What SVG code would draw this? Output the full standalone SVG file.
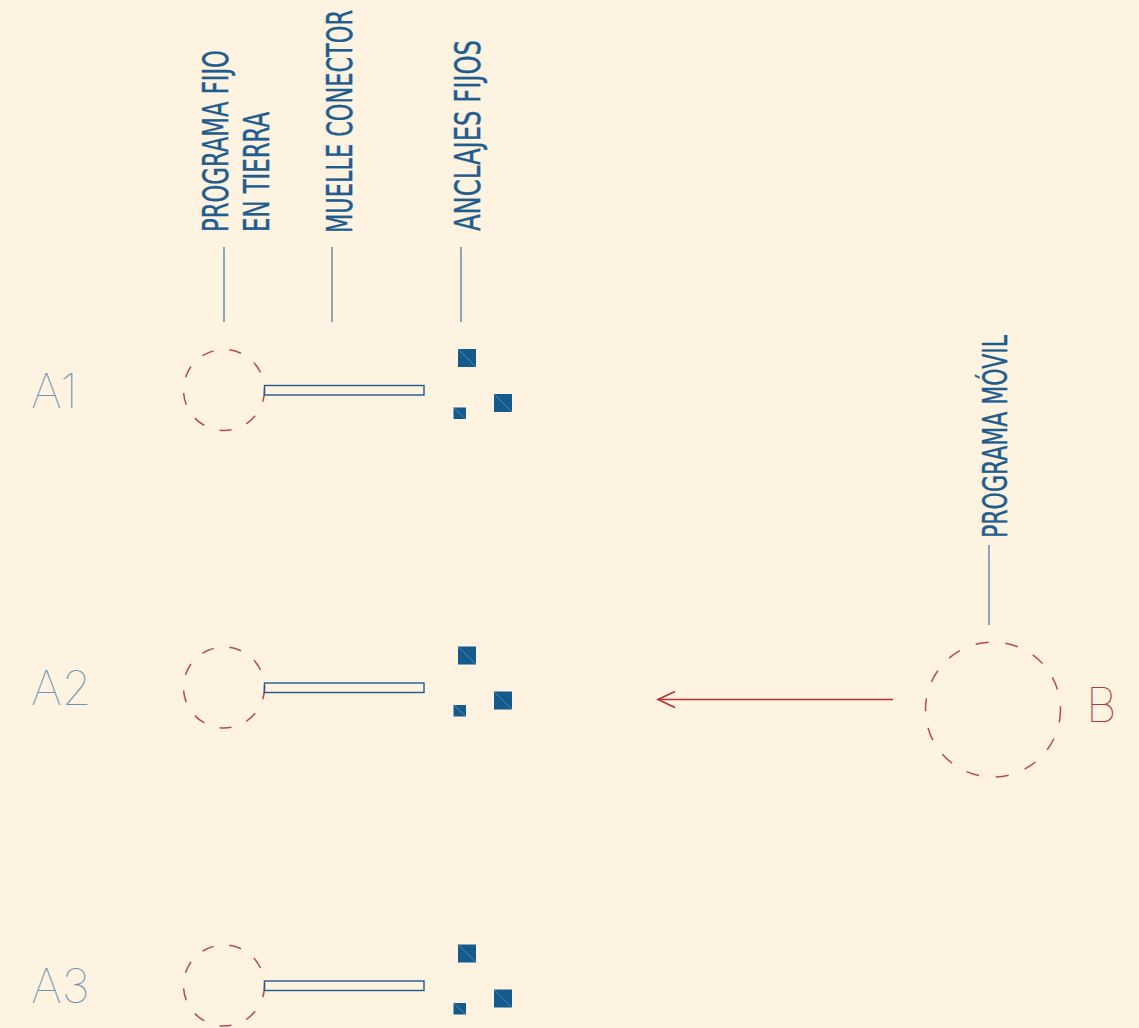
<svg xmlns="http://www.w3.org/2000/svg" width="1139" height="1028" viewBox="0 0 1139 1028">
<style>
.bg{fill:#fef2e0}
.lbl{font-family:"Liberation Sans Narrow","DejaVu Sans Condensed","Liberation Sans",sans-serif;font-size:35px;fill:#1f5d8f;stroke:#1f5d8f;stroke-width:0.4}
.lead{stroke:#6f93ae;stroke-width:1.6;fill:none}
.row{font-family:Inter,"Lato","Liberation Sans",sans-serif;font-weight:100;font-size:48px;fill:#6a95b6}
.dash{fill:none;stroke:#b94a4a;stroke-width:1.5;stroke-dasharray:12 16}
.dashB{fill:none;stroke:#b94a4a;stroke-width:1.5;stroke-dasharray:13 17}
.pier{fill:none;stroke:#1f5d8f;stroke-width:1.4}
.anc{fill:#155a8c}
.diag{stroke:#5d8fb6;stroke-width:0.8}
.arrow{stroke:#b03535;stroke-width:1.6;fill:none}
.bl{font-family:Inter,"Lato","Liberation Sans",sans-serif;font-weight:100;font-size:48px;fill:#b03838}
</style>
<rect class="bg" x="0" y="0" width="1139" height="1028"/>

<g id="labels">
  <g id="label-programa-fijo">
    <text class="lbl" transform="translate(228,232) rotate(-90)" textLength="182" lengthAdjust="spacingAndGlyphs">PROGRAMA FIJO</text>
    <text class="lbl" transform="translate(269,232) rotate(-90)" textLength="120" lengthAdjust="spacingAndGlyphs">EN TIERRA</text>
  </g>
  <g id="label-muelle">
    <text class="lbl" transform="translate(352,233) rotate(-90)" textLength="223" lengthAdjust="spacingAndGlyphs">MUELLE CONECTOR</text>
  </g>
  <g id="label-anclajes">
    <text class="lbl" transform="translate(480,231) rotate(-90)" textLength="191" lengthAdjust="spacingAndGlyphs">ANCLAJES FIJOS</text>
  </g>
  <g id="label-movil">
    <text class="lbl" style="font-size:33px" transform="translate(1007,538) rotate(-90)" textLength="203" lengthAdjust="spacingAndGlyphs">PROGRAMA MÓVIL</text>
  </g>
</g>

<g id="connectors">
  <line class="lead" x1="224" y1="247" x2="224" y2="322"/>
  <line class="lead" x1="332" y1="247" x2="332" y2="322"/>
  <line class="lead" x1="461" y1="247" x2="461" y2="322"/>
  <line class="lead" x1="989" y1="545" x2="989" y2="625"/>
  <g id="arrow-B-A2">
    <line class="arrow" x1="893" y1="699.5" x2="658" y2="699.5"/>
    <polyline class="arrow" points="675,691.5 658,699.5 675,707.5"/>
  </g>
</g>

<defs>
  <g id="rowShape">
    <circle class="dash" cx="224" cy="390" r="40.5"/>
    <rect class="pier" x="264.5" y="385.5" width="159.5" height="9.5"/>
    <rect class="anc" x="458" y="349" width="18" height="18"/>
    <line class="diag" x1="458" y1="349" x2="476" y2="367"/>
    <rect class="anc" x="494" y="394" width="18" height="18"/>
    <line class="diag" x1="494" y1="394" x2="512" y2="412"/>
    <rect class="anc" x="453.5" y="407.5" width="12.5" height="11.5"/>
    <line class="diag" x1="453.5" y1="407.5" x2="466" y2="419"/>
  </g>
</defs>

<g id="node-A1">
  <text class="row" x="31" y="408">A1</text>
  <use href="#rowShape"/>
</g>
<g id="node-A2">
  <text class="row" x="31" y="705">A2</text>
  <use href="#rowShape" transform="translate(0,297.5)"/>
</g>
<g id="node-A3">
  <text class="row" x="31" y="1003">A3</text>
  <use href="#rowShape" transform="translate(0,595.5)"/>
</g>

<g id="node-B">
  <circle class="dashB" cx="993" cy="709.5" r="67.5"/>
  <text class="bl" x="1086" y="722">B</text>
</g>
</svg>
